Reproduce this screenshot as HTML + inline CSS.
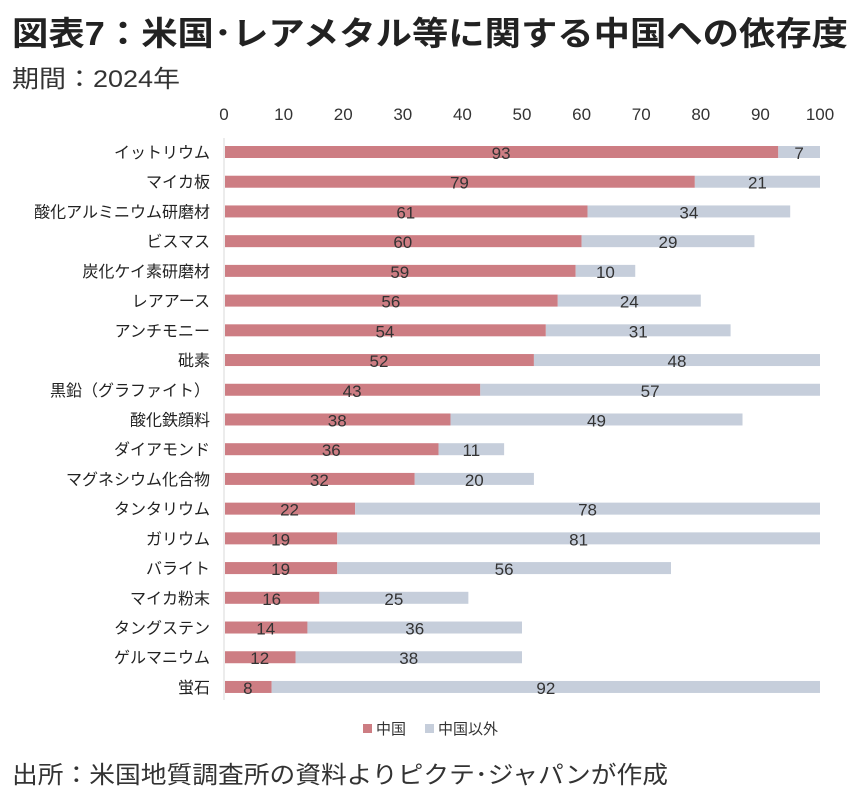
<!DOCTYPE html>
<html><head><meta charset="utf-8"><style>
body{margin:0;background:#fff;width:862px;height:796px;overflow:hidden;font-family:"Liberation Sans","Noto Sans CJK JP",sans-serif;color:#222}
</style></head><body>
<svg width="862" height="796" xmlns="http://www.w3.org/2000/svg" font-family="Liberation Sans, Noto Sans CJK JP, sans-serif">
<text x="12" y="45" font-size="33" font-weight="bold" fill="#222" textLength="836" lengthAdjust="spacingAndGlyphs">図表7：米国･レアメタル等に関する中国への依存度</text>
<text x="12" y="87" font-size="24" fill="#333" textLength="168" lengthAdjust="spacingAndGlyphs">期間：2024年</text>
<text x="12" y="783" font-size="24" fill="#333" textLength="656" lengthAdjust="spacingAndGlyphs">出所：米国地質調査所の資料よりピクテ･ジャパンが作成</text>
<g id="plot"></g>
<g>
<rect x="363" y="724" width="9" height="9" fill="#cd7d83"/>
<text x="376" y="734" font-size="15" fill="#333">中国</text>
<rect x="425" y="724" width="9" height="9" fill="#c6cedb"/>
<text x="438" y="734" font-size="15" fill="#333">中国以外</text>
</g>
</svg>
<script>
const categories=["イットリウム","マイカ板","酸化アルミニウム研磨材","ビスマス","炭化ケイ素研磨材","レアアース","アンチモニー","砒素","黒鉛（グラファイト）","酸化鉄顔料","ダイアモンド","マグネシウム化合物","タンタリウム","ガリウム","バライト","マイカ粉末","タングステン","ゲルマニウム","蛍石"];
const chinaValues=[93,79,61,60,59,56,54,52,43,38,36,32,22,19,19,16,14,12,8];
const otherValues=[7,21,34,29,10,24,31,48,57,49,11,20,78,81,56,25,36,38,92];
const ticks=[0,10,20,30,40,50,60,70,80,90,100];
const NS="http://www.w3.org/2000/svg";
const g=document.getElementById('plot');
const x0=224,x1=820,yTop=152,step=29.72,bh=12;
const xs=v=>x0+(x1-x0)*v/100;
const ys=i=>yTop+i*step;
function mk(t,a){const e=document.createElementNS(NS,t);for(const k in a)e.setAttribute(k,a[k]);g.appendChild(e);return e;}
ticks.forEach(t=>{const e=mk('text',{x:xs(t),y:120,'font-size':17,'text-anchor':'middle',fill:'#333'});e.textContent=t;

});
const ax=mk('line',{x1:x0,x2:x0,y1:138,y2:700,stroke:'#d9d9d9','stroke-width':1});


categories.forEach((c,i)=>{
const y=ys(i);
const l=mk('text',{x:210,y:y+6,'font-size':16,'text-anchor':'end',fill:'#222'});l.textContent=c;


const r1=mk('rect',{x:xs(0)+1,y:y-bh/2,width:xs(chinaValues[i])-xs(0)-1,height:bh,fill:'#cd7d83'});


const r2=mk('rect',{x:xs(chinaValues[i]),y:y-bh/2,width:xs(chinaValues[i]+otherValues[i])-xs(chinaValues[i]),height:bh,fill:'#c6cedb'});


const t1=mk('text',{x:(xs(0)+xs(chinaValues[i]))/2,y:y+7,'font-size':17,'text-anchor':'middle',fill:'#333'});t1.textContent=chinaValues[i];


const t2=mk('text',{x:(xs(chinaValues[i])+xs(chinaValues[i]+otherValues[i]))/2,y:y+7,'font-size':17,'text-anchor':'middle',fill:'#333'});t2.textContent=otherValues[i];


});
</script>
</body></html>
